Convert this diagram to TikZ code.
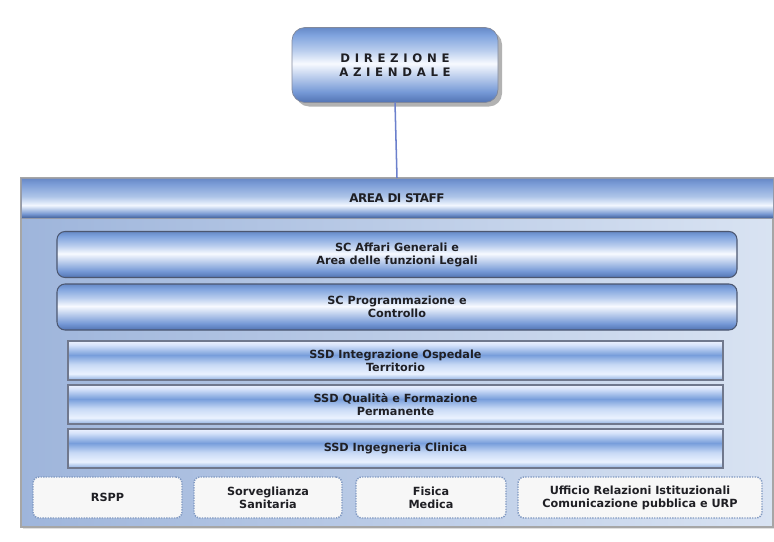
\documentclass[tikz,border=0pt]{standalone}
\usepackage{fontspec}
\setmainfont{DejaVu Sans}
\usetikzlibrary{shadows}

\definecolor{txt}{rgb}{0.12,0.12,0.14}
\definecolor{rim}{rgb}{0.30,0.34,0.44}
\definecolor{dots}{rgb}{0.50,0.60,0.76}
\definecolor{bgL}{rgb}{0.62,0.71,0.86}
\definecolor{bgR}{rgb}{0.85,0.89,0.95}
\definecolor{link}{rgb}{0.42,0.50,0.80}

\pgfdeclareverticalshading{barshade}{100bp}{%
  rgb(0bp)=(0.32,0.45,0.70);
  rgb(25bp)=(0.32,0.45,0.70);
  rgb(32bp)=(0.46,0.60,0.84);
  rgb(51bp)=(0.97,0.98,1);
  rgb(60bp)=(0.72,0.80,0.93);
  rgb(70bp)=(0.50,0.64,0.87);
  rgb(75bp)=(0.40,0.54,0.78);
  rgb(100bp)=(0.40,0.54,0.78)}
\pgfdeclareverticalshading{ssdshade}{100bp}{%
  rgb(0bp)=(0.55,0.68,0.88);
  rgb(25bp)=(0.55,0.68,0.88);
  rgb(33bp)=(0.92,0.95,1);
  rgb(45bp)=(0.78,0.85,0.96);
  rgb(57bp)=(0.47,0.62,0.86);
  rgb(70bp)=(0.84,0.89,0.98);
  rgb(75bp)=(0.93,0.95,1);
  rgb(100bp)=(0.93,0.95,1)}
\pgfdeclareverticalshading{hdrshade}{100bp}{%
  rgb(0bp)=(0.26,0.38,0.60);
  rgb(25bp)=(0.26,0.38,0.60);
  rgb(30bp)=(0.46,0.59,0.82);
  rgb(41bp)=(0.95,0.97,1);
  rgb(52bp)=(0.68,0.77,0.91);
  rgb(68bp)=(0.48,0.61,0.84);
  rgb(75bp)=(0.40,0.53,0.77);
  rgb(100bp)=(0.40,0.53,0.77)}

\newdimen\px \px=0.3mm

\begin{document}
\begin{tikzpicture}[x=\px,y=-\px,
    lbl/.style={font=\fontsize{9.6}{11}\selectfont\bfseries,text=txt,align=center,inner sep=0pt,outer sep=0pt},
    bar/.style={lbl,draw=rim,line width=0.9pt,rounded corners=8\px,shading=barshade,
      minimum width=680\px,minimum height=46\px},
    ssd/.style={lbl,draw=rim!80,line width=0.9pt,shading=ssdshade,
      minimum width=655\px,minimum height=39\px},
    aux/.style={lbl,draw=dots,densely dotted,line width=1.2pt,rounded corners=6\px,
      fill=gray!6,minimum height=41\px}]
  \useasboundingbox (0,0) rectangle (774,542);
  % vertice
  \node[lbl,draw=rim!70,line width=0.6pt,rounded corners=13\px,shading=barshade,
    minimum width=206\px,minimum height=75\px,
    drop shadow={shadow xshift=1.2mm,shadow yshift=-1.2mm,fill=black!60,opacity=.5},
    font=\fontsize{10}{12}\selectfont\bfseries\addfontfeature{LetterSpace=40}]
    (direz) at (395,65) {DIREZIONE\\AZIENDALE};
  % area di staff
  \node[draw=gray!70,line width=0.9pt,left color=bgL,right color=bgR,
    minimum width=752\px,minimum height=349\px,inner sep=0pt,
    drop shadow={shadow xshift=0.5mm,shadow yshift=-0.5mm,fill=black!30,opacity=.4}]
    (staff) at (397,352.5) {};
  \node[lbl,draw=rim!60,line width=0.6pt,shading=hdrshade,minimum width=752\px,minimum height=40\px,
    font=\fontsize{10.2}{11}\selectfont\bfseries\addfontfeature{LetterSpace=-4}]
    (hdr) at (397,198) {AREA DI STAFF};
  \node[bar] (affari) at (397,254.5) {SC Affari Generali e\\Area delle funzioni Legali};
  \node[bar] (progr) at (397,307) {SC Programmazione e\\Controllo};
  \node[ssd] (integr) at (395.5,360.5) {SSD Integrazione Ospedale\\Territorio};
  \node[ssd] (qual) at (395.5,404.5) {SSD Qualità e Formazione\\Permanente};
  \node[ssd] (ingegn) at (395.5,448.5) {SSD Ingegneria Clinica};
  % uffici in staff
  \node[aux,minimum width=149\px] (rspp) at (107.5,497.5) {RSPP};
  \node[aux,minimum width=148\px] (sorv) at (268,497.5) {Sorveglianza\\Sanitaria};
  \node[aux,minimum width=150\px] (fisica) at (431,497.5) {Fisica\\Medica};
  \node[aux,minimum width=244\px] (urp) at (640,497.5) {Ufficio Relazioni Istituzionali\\Comunicazione pubblica e URP};
  \draw[line width=1.3pt,link] (direz.south) -- (hdr.north);
\end{tikzpicture}
\end{document}
